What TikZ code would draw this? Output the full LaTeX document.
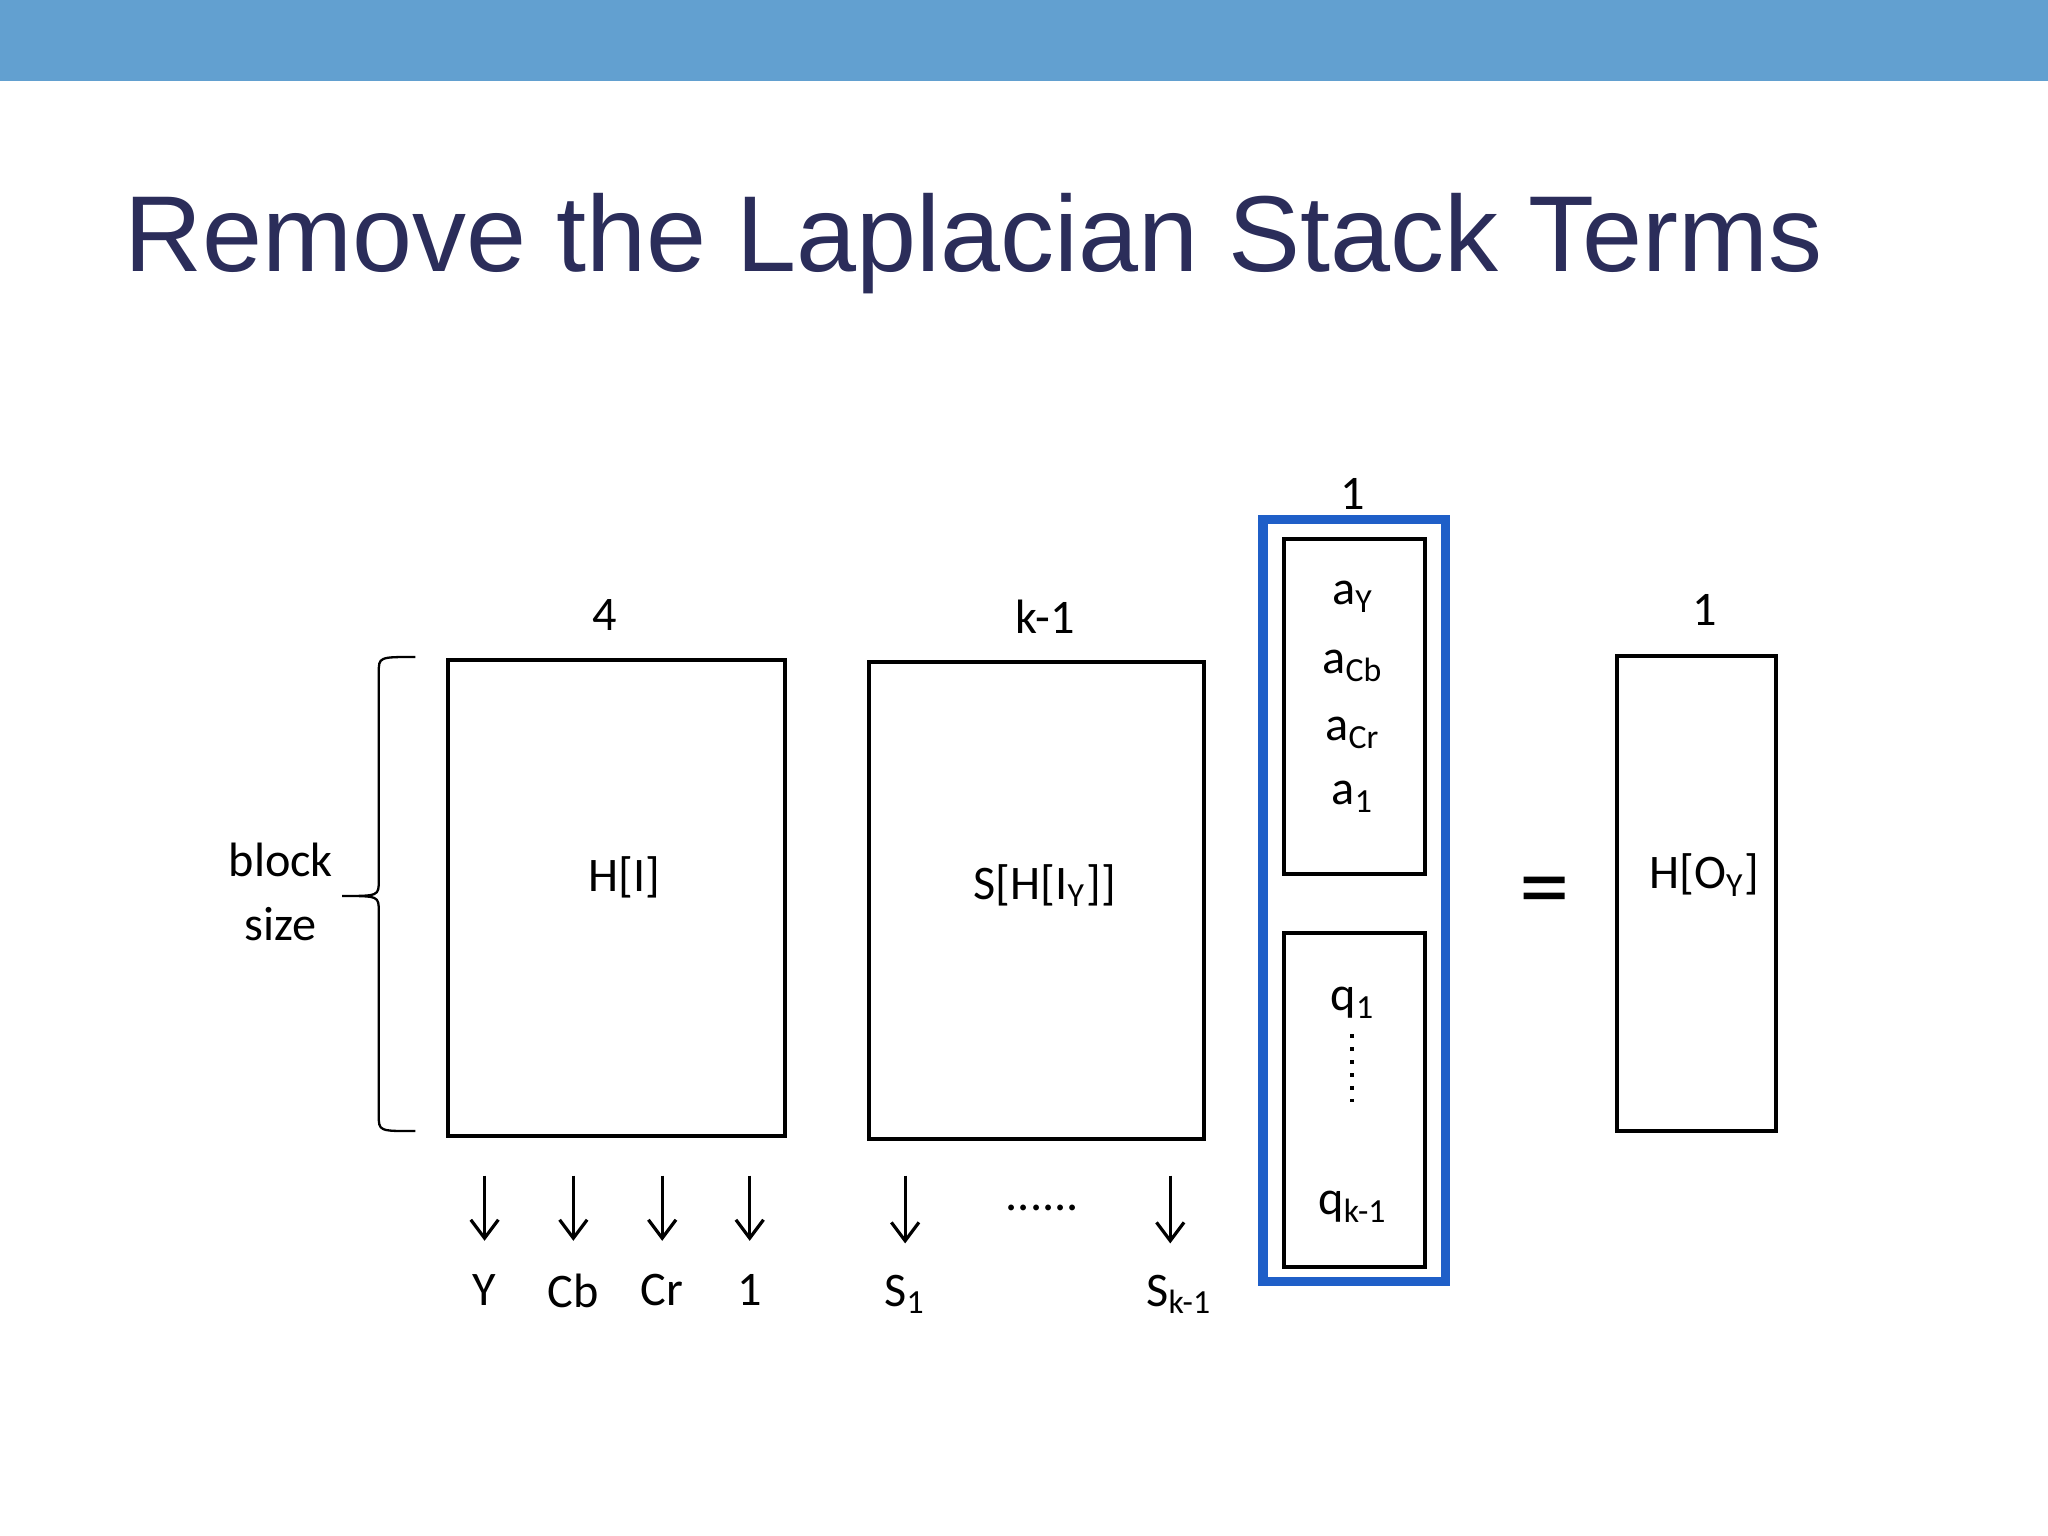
\documentclass[tikz,border=0pt]{standalone}
\usepackage{fontspec}
\setmainfont{Carlito}
\newfontfamily\titlefont{Liberation Sans}
\usetikzlibrary{arrows.meta}
\definecolor{barblue}{HTML}{62A0D0}
\definecolor{titlenavy}{HTML}{2B2D5A}
\definecolor{selblue}{HTML}{1F5FC8}
\tikzset{mat/.style={draw,line width=0.9pt},
 lbl/.style={font=\fontsize{10.5}{12}\selectfont,inner sep=0pt},
 darr/.style={-{Straight Barb[length=4pt,width=6pt]},line width=0.7pt}}
\begin{document}
\begin{tikzpicture}[x=0.01cm,y=-0.01cm]
\useasboundingbox (0,0) rectangle (1568,1176);
\fill[barblue] (0,0) rectangle (1568,62);
\node[anchor=base west,inner sep=0pt,text=titlenavy,font=\titlefont\fontsize{23.5}{28}\selectfont] (title) at (95,208) {Remove the Laplacian Stack Terms};
% H[I]
\draw[mat] (343,505) rectangle (601,870);
\node[lbl] (hi) at (478,672) {H[I]};
\node[lbl] (four) at (463,471) {4};
\coordinate (bt) at (318,503); \coordinate (bb) at (318,866); \coordinate (bm) at (262,686);
\draw[line width=0.5pt] (bt) .. controls (290,503) .. (290,515) -- (290,674) .. controls (290,686) .. (bm)
  .. controls (290,686) .. (290,698) -- (290,854) .. controls (290,866) .. (bb);
\node[lbl,align=center] (bs) at (215,683) {block\\[2pt]size};
% S
\draw[mat] (665,507) rectangle (922,872);
\node[lbl] (s) at (800,678) {S[H[I\textsubscript{Y}]]};
\node[lbl] (km) at (800,472) {k-1};
% blue
\draw[selblue,line width=2pt] (967,398) rectangle (1107,981);
\node[lbl] (one1) at (1036,378) {1};
\draw[mat] (983,413) rectangle (1091,669);
\draw[mat] (983,714) rectangle (1091,970);
\node[lbl] (ay) at (1036,457) {a\textsubscript{Y}};
\node[lbl] (acb) at (1036,510) {a\textsubscript{Cb}};
\node[lbl] (acr) at (1036,561) {a\textsubscript{Cr}};
\node[lbl] (a1) at (1036,610) {a\textsubscript{1}};
\node[lbl] (q1) at (1036,768) {q\textsubscript{1}};
\node[lbl] (qk) at (1036,924) {q\textsubscript{k-1}};
\draw[dotted,line width=0.8pt] (1035,792) -- (1035,845);
\node[font=\fontsize{22}{24}\selectfont] (eq) at (1183,688) {=};
% O
\draw[mat] (1238,502) rectangle (1360,866);
\node[lbl] (ho) at (1305,670) {H[O\textsubscript{Y}]};
\node[lbl] (one2) at (1305,467) {1};
% arrows
\foreach \x/\t/\n in {371/Y/a,439/Cb/b,507/Cr/c,574/1/d}{
 \coordinate (t\n) at (\x,900); \coordinate (h\n) at (\x,950);
 \draw[darr] (t\n) -- (h\n);
 \node[lbl] (l\n) at (\x,988) {\t};}
\coordinate (te) at (693,900); \coordinate (he) at (693,952);
\draw[darr] (te) -- (he);
\coordinate (tf) at (896,900); \coordinate (hf) at (896,952);
\draw[darr] (tf) -- (hf);
\node[lbl] (dots) at (798,925) {......};
\node[lbl] (s1) at (693,991) {S\textsubscript{1}};
\node[lbl] (sk) at (903,991) {S\textsubscript{k-1}};
\end{tikzpicture}
\end{document}
